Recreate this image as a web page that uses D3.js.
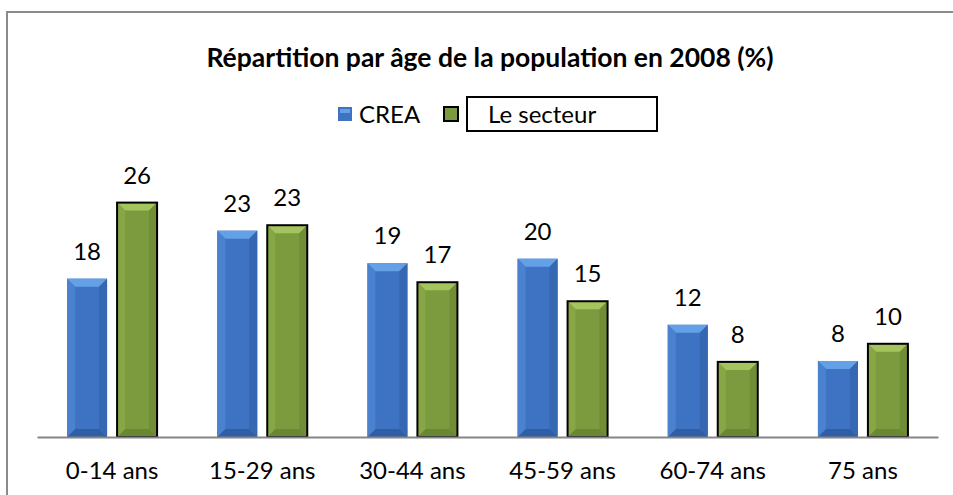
<!DOCTYPE html>
<html>
<head>
<meta charset="utf-8">
<script src="https://cdn.jsdelivr.net/npm/d3@7"></script>
<style>
  body { margin: 0; background: #fff; }
  text { font-family: Lato, "Open Sans", sans-serif; fill: #000; }
</style>
</head>
<body>
<div id="chart"></div>
<script>
"use strict";

// data
var categories = ["0-14 ans", "15-29 ans", "30-44 ans", "45-59 ans", "60-74 ans", "75 ans"];
var seriesNames = ["CREA", "Le secteur"];
var crea = [17.5, 22.8, 19.2, 19.7, 12.4, 8.4];
var secteur = [25.9, 23.4, 17.1, 15.0, 8.3, 10.3];
var chartTitle = "Répartition par âge de la population en 2008 (%)";

var width = 953, height = 495;
var margin = {top: 166, right: 15, bottom: 58, left: 37};

var svg = d3.select("#chart").append("svg")
    .attr("width", width)
    .attr("height", height);

// outer frame (runs off the right and bottom of the picture)
svg.append("rect")
    .attr("x", 7).attr("y", 12)
    .attr("width", 980).attr("height", 520)
    .attr("fill", "none")
    .attr("stroke", "#8a8a8a")
    .attr("stroke-width", 2);

var x = d3.scaleBand()
    .domain(categories)
    .range([margin.left, width - margin.right])
    .paddingInner(0).paddingOuter(0);

var y = d3.scaleLinear()
    .domain([0, 30])
    .range([437, 437 - 30 * 9.05]);

var styles = [
  {base: "#3d73c2", top: "#64a0e6", bottom: "#2f5ea6", left: "#4a82d0", right: "#3567b3", stroke: "none"},
  {base: "#7c9a3e", top: "#a4c55e", bottom: "#6a8733", left: "#87a646", right: "#718e37", stroke: "#000"}
];

var barW = 40, gapW = 10, bev = 8;

function barData(values, s) {
  return values.map(function(v, i) {
    var cx = x(categories[i]) + x.bandwidth() / 2;
    var x0 = s === 0 ? cx - gapW / 2 - barW : cx + gapW / 2;
    return {v: v, x0: x0, x1: x0 + barW, y0: y(v), y1: y(0), s: s};
  });
}

var allBars = barData(crea, 0).concat(barData(secteur, 1));

var g = svg.append("g");
allBars.forEach(function(b) {
  var st = styles[b.s];
  var bar = g.append("g");
  bar.append("rect")
      .attr("x", b.x0).attr("y", b.y0)
      .attr("width", b.x1 - b.x0).attr("height", b.y1 - b.y0)
      .attr("fill", st.base);
  var faces = [
    {f: st.top, p: [[b.x0, b.y0], [b.x1, b.y0], [b.x1 - bev, b.y0 + bev], [b.x0 + bev, b.y0 + bev]]},
    {f: st.bottom, p: [[b.x0, b.y1], [b.x1, b.y1], [b.x1 - bev, b.y1 - bev], [b.x0 + bev, b.y1 - bev]]},
    {f: st.left, p: [[b.x0, b.y0], [b.x0 + bev, b.y0 + bev], [b.x0 + bev, b.y1 - bev], [b.x0, b.y1]]},
    {f: st.right, p: [[b.x1, b.y0], [b.x1 - bev, b.y0 + bev], [b.x1 - bev, b.y1 - bev], [b.x1, b.y1]]}
  ];
  faces.forEach(function(fc) {
    bar.append("path")
        .attr("d", "M" + fc.p.join("L") + "Z")
        .attr("fill", fc.f);
  });
  if (st.stroke !== "none") {
    bar.append("rect")
        .attr("x", b.x0).attr("y", b.y0)
        .attr("width", b.x1 - b.x0).attr("height", b.y1 - b.y0)
        .attr("fill", "none")
        .attr("stroke", st.stroke)
        .attr("stroke-width", 2);
  }
});

// value labels
svg.append("g").selectAll("text")
    .data(allBars)
  .enter().append("text")
    .attr("x", function(d) { return (d.x0 + d.x1) / 2; })
    .attr("y", function(d) { return d.y0 - 19; })
    .attr("text-anchor", "middle")
    .style("font-size", "24px")
    .text(function(d) { return Math.round(d.v); });

// x axis
var xAxis = svg.append("g")
    .attr("transform", "translate(0," + y(0) + ")")
    .call(d3.axisBottom(x).tickSize(0).tickPadding(0));
xAxis.select(".domain").attr("stroke", "#868686").attr("stroke-width", 2);
xAxis.selectAll(".tick text")
    .attr("dy", null)
    .attr("y", 42)
    .style("font-size", "24px")
    .style("font-family", "Lato, 'Open Sans', sans-serif")
    .attr("fill", "#000");

// title
svg.append("text")
    .attr("x", 490).attr("y", 67)
    .attr("text-anchor", "middle")
    .style("font-size", "26.5px")
    .style("font-weight", "bold")
    .text(chartTitle);

// legend
var legend = svg.append("g");
legend.append("rect")
    .attr("x", 338).attr("y", 107).attr("width", 14).attr("height", 14)
    .attr("fill", styles[0].base);
legend.append("rect")
    .attr("x", 340).attr("y", 109).attr("width", 10).attr("height", 4)
    .attr("fill", styles[0].top);
legend.append("text")
    .attr("x", 359).attr("y", 123)
    .style("font-size", "24px")
    .text(seriesNames[0]);
legend.append("rect")
    .attr("x", 444).attr("y", 107).attr("width", 14).attr("height", 14)
    .attr("fill", styles[1].base)
    .attr("stroke", "#000").attr("stroke-width", 2);
legend.append("rect")
    .attr("x", 467).attr("y", 97).attr("width", 190).attr("height", 34)
    .attr("fill", "none")
    .attr("stroke", "#000").attr("stroke-width", 2);
legend.append("text")
    .attr("x", 488).attr("y", 123)
    .style("font-size", "24px")
    .text(seriesNames[1]);
</script>
</body>
</html>
